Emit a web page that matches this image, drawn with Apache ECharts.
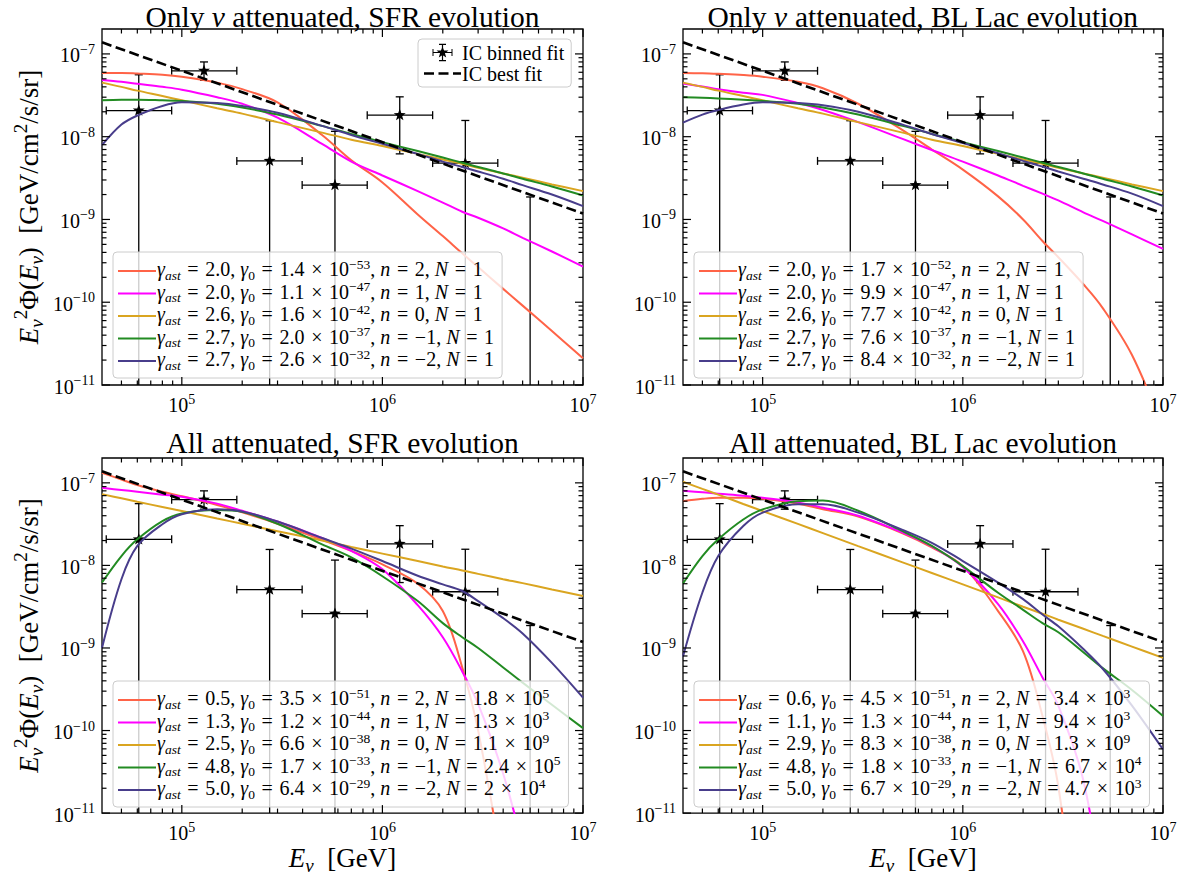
<!DOCTYPE html>
<html>
<head>
<meta charset="utf-8">
<script src="https://cdn.jsdelivr.net/npm/echarts@6/dist/echarts.min.js"></script>
<style>html,body{margin:0;padding:0;background:#fff}#chart{width:1185px;height:876px}</style>
</head>
<body>
<div id="chart"></div>
<script>
// ---------------- DATA ----------------
const energyGrid = [4e4, 5e4, 6e4, 8e4, 1e5, 1.5e5, 2e5, 3e5, 5e5, 7e5, 1e6, 1.5e6, 2e6, 2.5e6, 3e6, 4e6, 5e6, 7e6, 1e7];

// IC best fit (straight power law)
const fitEnergy = [4e4, 1e7];
const fitFlux = [1.38e-7, 1.18e-9];

// IC binned fit
const binCenter = [6.1e4, 1.29e5, 2.74e5, 5.8e5, 1.22e6, 2.59e6, 5.45e6];
const binLow = [4.2e4, 8.9e4, 1.88e5, 3.98e5, 8.4e5, 1.78e6, 3.76e6];
const binHigh = [8.9e4, 1.88e5, 3.98e5, 8.4e5, 1.78e6, 3.76e6, 7.9e6];
const binFlux = [2.07e-8, 6.25e-8, 5.1e-9, 2.6e-9, 1.82e-8, 4.8e-9, 0];
const binUpper = [5.6e-8, 8.0e-8, 1.56e-8, 1.16e-8, 3.03e-8, 1.57e-8, 1.87e-9];
const binLower = [0, 4.8e-8, 0, 0, 6.2e-9, 0, 0];

// Only nu attenuated, SFR evolution
const tlN2 = [5.9e-8, 5.9e-8, 5.8e-8, 5.6e-8, 5.3e-8, 4.5e-8, 3.75e-8, 2.6e-8, 1.05e-8, 5.2e-9, 2.8e-9, 1.15e-9, 6.3e-10, 3.9e-10, 2.66e-10, 1.45e-10, 9.1e-11, 4.5e-11, 2.1e-11];
const tlN1 = [4.85e-8, 4.6e-8, 4.35e-8, 4.0e-8, 3.7e-8, 3.0e-8, 2.5e-8, 1.7e-8, 8.2e-9, 5.0e-9, 3.4e-9, 2.2e-9, 1.6e-9, 1.24e-9, 1.05e-9, 7.8e-10, 6.0e-10, 4.1e-10, 2.7e-10];
const tlN0 = [4.5e-8, 4.0e-8, 3.6e-8, 3.1e-8, 2.75e-8, 2.2e-8, 1.9e-8, 1.5e-8, 1.12e-8, 9.2e-9, 7.7e-9, 6.2e-9, 5.3e-9, 4.7e-9, 4.2e-9, 3.6e-9, 3.2e-9, 2.65e-9, 2.2e-9];
const tlNm1 = [2.75e-8, 2.8e-8, 2.8e-8, 2.75e-8, 2.7e-8, 2.5e-8, 2.25e-8, 1.85e-8, 1.35e-8, 1.08e-8, 8.6e-9, 6.7e-9, 5.6e-9, 4.85e-9, 4.3e-9, 3.6e-9, 3.1e-9, 2.5e-9, 1.95e-9];
const tlNm2 = [7.9e-9, 1.4e-8, 1.8e-8, 2.35e-8, 2.6e-8, 2.55e-8, 2.35e-8, 1.95e-8, 1.35e-8, 1.05e-8, 8.2e-9, 6.2e-9, 5.0e-9, 4.3e-9, 3.8e-9, 3.1e-9, 2.6e-9, 2.0e-9, 1.45e-9];

// Only nu attenuated, BL Lac evolution
const trN2 = [5.9e-8, 5.85e-8, 5.75e-8, 5.55e-8, 5.3e-8, 4.6e-8, 3.85e-8, 2.5e-8, 1.2e-8, 7.0e-9, 4.0e-9, 1.9e-9, 1.0e-9, 5.5e-10, 3.5e-10, 1.65e-10, 8.5e-11, 2.3e-11, 3e-12];
const trN1 = [4.4e-8, 4.05e-8, 3.75e-8, 3.4e-8, 3.2e-8, 2.55e-8, 2.1e-8, 1.5e-8, 9.4e-9, 6.9e-9, 5.0e-9, 3.4e-9, 2.55e-9, 2.05e-9, 1.7e-9, 1.22e-9, 9.6e-10, 6.6e-10, 4.4e-10];
const trN0 = [4.5e-8, 4.0e-8, 3.6e-8, 3.1e-8, 2.75e-8, 2.2e-8, 1.9e-8, 1.5e-8, 1.12e-8, 9.2e-9, 7.7e-9, 6.2e-9, 5.3e-9, 4.7e-9, 4.2e-9, 3.6e-9, 3.2e-9, 2.65e-9, 2.2e-9];
const trNm1 = [3.0e-8, 2.95e-8, 2.9e-8, 2.8e-8, 2.7e-8, 2.5e-8, 2.25e-8, 1.85e-8, 1.35e-8, 1.08e-8, 8.6e-9, 6.7e-9, 5.6e-9, 4.85e-9, 4.3e-9, 3.6e-9, 3.1e-9, 2.5e-9, 1.95e-9];
const trNm2 = [1.48e-8, 1.85e-8, 2.1e-8, 2.45e-8, 2.6e-8, 2.55e-8, 2.4e-8, 2.0e-8, 1.4e-8, 1.08e-8, 8.4e-9, 6.3e-9, 5.1e-9, 4.35e-9, 3.8e-9, 3.1e-9, 2.65e-9, 2.05e-9, 1.45e-9];

// All attenuated, SFR evolution
const blN2 = [1.32e-7, 1.1e-7, 9.4e-8, 7.8e-8, 6.9e-8, 5.4e-8, 4.4e-8, 3.2e-8, 2.05e-8, 1.5e-8, 1.03e-8, 6.0e-9, 2.8e-9, 5.8e-10, 1.0e-10, 2e-12, null, null, null];
const blN1 = [8.7e-8, 8.2e-8, 7.8e-8, 7.2e-8, 6.8e-8, 5.6e-8, 4.6e-8, 3.4e-8, 2.15e-8, 1.5e-8, 9.0e-9, 3.3e-9, 1.35e-9, 5.2e-10, 2.1e-10, 3e-11, 4e-12, null, null];
const blN0 = [7.3e-8, 6.5e-8, 5.9e-8, 5.1e-8, 4.55e-8, 3.7e-8, 3.2e-8, 2.6e-8, 2.0e-8, 1.67e-8, 1.39e-8, 1.13e-8, 9.7e-9, 8.7e-9, 7.9e-9, 6.8e-9, 6.1e-9, 5.1e-9, 4.27e-9];
const blNm1 = [6.2e-9, 1.3e-8, 2.07e-8, 3.45e-8, 4.27e-8, 4.7e-8, 4.45e-8, 3.2e-8, 1.8e-8, 1.25e-8, 7.4e-9, 3.7e-9, 2.0e-9, 1.35e-9, 1.0e-9, 5.8e-10, 3.8e-10, 2.05e-10, 1.07e-10];
const blNm2 = [1.0e-9, 6.8e-9, 1.72e-8, 3.15e-8, 4.16e-8, 4.78e-8, 4.5e-8, 3.4e-8, 2.15e-8, 1.6e-8, 1.13e-8, 7.5e-9, 5.9e-9, 4.9e-9, 3.7e-9, 2.3e-9, 1.5e-9, 6.6e-10, 2.5e-10];

// All attenuated, BL Lac evolution
const brN2 = [6.0e-8, 6.4e-8, 6.6e-8, 6.6e-8, 6.4e-8, 5.6e-8, 4.8e-8, 3.9e-8, 2.45e-8, 1.65e-8, 9.8e-9, 2.8e-9, 9.1e-10, 1.5e-10, 2.1e-11, 1e-13, null, null, null];
const brN1 = [8.0e-8, 7.7e-8, 7.4e-8, 7.0e-8, 6.6e-8, 5.8e-8, 5.0e-8, 4.0e-8, 2.5e-8, 1.7e-8, 9.6e-9, 3.4e-9, 1.2e-9, 4.4e-10, 2.0e-10, 2.5e-11, 1e-12, null, null];
const brN0 = [1.03e-7, 8.45e-8, 7.2e-8, 5.55e-8, 4.55e-8, 3.18e-8, 2.46e-8, 1.71e-8, 1.09e-8, 8.1e-9, 5.9e-9, 4.1e-9, 3.16e-9, 2.6e-9, 2.2e-9, 1.71e-9, 1.4e-9, 1.04e-9, 7.6e-10];
const brNm1 = [6.05e-9, 1.3e-8, 2.07e-8, 3.6e-8, 4.77e-8, 6.0e-8, 6.1e-8, 4.6e-8, 2.6e-8, 1.72e-8, 9.8e-9, 4.66e-9, 2.9e-9, 2.0e-9, 1.55e-9, 8.9e-10, 5.7e-10, 3.1e-10, 1.5e-10];
const brNm2 = [7.9e-10, 4.7e-9, 1.3e-8, 3.0e-8, 4.36e-8, 5.5e-8, 5.5e-8, 4.36e-8, 2.7e-8, 1.88e-8, 1.13e-8, 6.2e-9, 3.9e-9, 2.54e-9, 1.83e-9, 9.7e-10, 5.6e-10, 2.0e-10, 5.9e-11];

// Legend parameters
const evolutionN = [2, 1, 0, -1, -2];
const tlGammaAst = ['2.0', '2.0', '2.6', '2.7', '2.7'];
const tlGamma0 = ['1.4', '1.1', '1.6', '2.0', '2.6'];
const tlGamma0Exp = [-53, -47, -42, -37, -32];
const trGammaAst = ['2.0', '2.0', '2.6', '2.7', '2.7'];
const trGamma0 = ['1.7', '9.9', '7.7', '7.6', '8.4'];
const trGamma0Exp = [-52, -47, -42, -37, -32];
const blGammaAst = ['0.5', '1.3', '2.5', '4.8', '5.0'];
const blGamma0 = ['3.5', '1.2', '6.6', '1.7', '6.4'];
const blGamma0Exp = [-51, -44, -38, -33, -29];
const blNorm = ['1.8', '1.3', '1.1', '2.4', '2'];
const blNormExp = [5, 3, 9, 5, 4];
const brGammaAst = ['0.6', '1.1', '2.9', '4.8', '5.0'];
const brGamma0 = ['4.5', '1.3', '8.3', '1.8', '6.7'];
const brGamma0Exp = [-51, -44, -38, -33, -29];
const brNorm = ['3.4', '9.4', '1.3', '6.7', '4.7'];
const brNormExp = [3, 3, 9, 4, 3];

const panelTitles = ['Only ν attenuated, SFR evolution', 'Only ν attenuated, BL Lac evolution',
                     'All attenuated, SFR evolution', 'All attenuated, BL Lac evolution'];

// Tick positions
const xMajorTicks = [1e5, 1e6, 1e7];
const xMinorTicks = [5e4, 6e4, 7e4, 8e4, 9e4, 2e5, 3e5, 4e5, 5e5, 6e5, 7e5, 8e5, 9e5, 2e6, 3e6, 4e6, 5e6, 6e6, 7e6, 8e6, 9e6];
const yMajorTicks = [1e-11, 1e-10, 1e-9, 1e-8, 1e-7];
const yMinorTicks = [2e-11, 3e-11, 4e-11, 5e-11, 6e-11, 7e-11, 8e-11, 9e-11,
                     2e-10, 3e-10, 4e-10, 5e-10, 6e-10, 7e-10, 8e-10, 9e-10,
                     2e-9, 3e-9, 4e-9, 5e-9, 6e-9, 7e-9, 8e-9, 9e-9,
                     2e-8, 3e-8, 4e-8, 5e-8, 6e-8, 7e-8, 8e-8, 9e-8];

const curveColors = ['#FF6347', '#FF00FF', '#DAA520', '#228B22', '#483D8B'];

// ---------------- BUILD ----------------
const SERIF = "'Liberation Serif', 'DejaVu Serif', serif";
const EQ = '\u2004=\u2004';
const TIMES = '\u2004×\u2004';
const grids = [
  {left: 102, top: 29, width: 481, height: 356},
  {left: 683, top: 29, width: 480, height: 356},
  {left: 102, top: 458, width: 481, height: 356},
  {left: 683, top: 458, width: 480, height: 356}
];
const panels = [
  {key: 'A', curves: [tlN2, tlN1, tlN0, tlNm1, tlNm2], ga: tlGammaAst, g0: tlGamma0, g0e: tlGamma0Exp, nm: null, ne: null},
  {key: 'B', curves: [trN2, trN1, trN0, trNm1, trNm2], ga: trGammaAst, g0: trGamma0, g0e: trGamma0Exp, nm: null, ne: null},
  {key: 'C', curves: [blN2, blN1, blN0, blNm1, blNm2], ga: blGammaAst, g0: blGamma0, g0e: blGamma0Exp, nm: blNorm, ne: blNormExp},
  {key: 'D', curves: [brN2, brN1, brN0, brNm1, brNm2], ga: brGammaAst, g0: brGamma0, g0e: brGamma0Exp, nm: brNorm, ne: brNormExp}
];

const sgn = v => (v < 0 ? '−' : '') + Math.abs(v);

function richLabel(p, k) {
  let s = '{i|γ}{sub|ast}{t|' + EQ + p.ga[k] + ', }{i|γ}{sub0|0}{t|' + EQ + p.g0[k] + TIMES + '10}{sup|' + sgn(p.g0e[k]) +
          '}{t|, }{i|n}{t|' + EQ + sgn(evolutionN[k]) + ', }{i|N}';
  if (p.nm) s += '{t|' + EQ + p.nm[k] + TIMES + '10}{sup|' + p.ne[k] + '}';
  else s += '{t|' + EQ + '1}';
  return s;
}
function plainLabel(p, k) {
  let s = p.key + ': γast = ' + p.ga[k] + ', γ0 = ' + p.g0[k] + ' × 10^' + sgn(p.g0e[k]) + ', n = ' + sgn(evolutionN[k]) + ', N = ';
  s += p.nm ? p.nm[k] + ' × 10^' + p.ne[k] : '1';
  return s;
}

const richMap = {};
const LH = 22, LF = 20, LS = 13.5;
const legendRich = {
  t: {fontFamily: SERIF, fontSize: LF, lineHeight: LH, verticalAlign: 'bottom', padding: [0, 0, 3, 0], color: '#000'},
  i: {fontFamily: SERIF, fontSize: LF, lineHeight: LH, fontStyle: 'italic', verticalAlign: 'bottom', padding: [0, 0, 3, 0], color: '#000'},
  sub: {fontFamily: SERIF, fontSize: LS, lineHeight: LH, fontStyle: 'italic', verticalAlign: 'bottom', padding: [0, 0, 0, 0], color: '#000'},
  sub0: {fontFamily: SERIF, fontSize: LS, lineHeight: LH, verticalAlign: 'bottom', padding: [0, 0, 0, 0], color: '#000'},
  sup: {fontFamily: SERIF, fontSize: LS, lineHeight: LH, verticalAlign: 'bottom', padding: [0, 0, 11, 0], color: '#000'}
};

const tickRich = {
  b: {fontFamily: SERIF, fontSize: 20, verticalAlign: 'bottom', padding: [0, 0, 0, 0], color: '#000'},
  s: {fontFamily: SERIF, fontSize: 14, verticalAlign: 'bottom', padding: [0, 0, 9, 0], color: '#000'}
};
function powLabel(v) {
  const l = Math.log10(v);
  const e = Math.round(l);
  if (Math.abs(l - e) > 1e-6) return '';
  return '{b|10}{s|' + sgn(e) + '}';
}

const NF = 27, NS = 19;
const nameRich = {
  t: {fontFamily: SERIF, fontSize: NF, verticalAlign: 'bottom', padding: [0, 0, 4, 0], color: '#000'},
  iE: {fontFamily: SERIF, fontSize: NF, fontStyle: 'italic', verticalAlign: 'bottom', padding: [0, 0, 4, 0], color: '#000'},
  sub: {fontFamily: SERIF, fontSize: NS, fontStyle: 'italic', verticalAlign: 'bottom', padding: [0, 0, 0, 0], color: '#000'},
  sup: {fontFamily: SERIF, fontSize: NS, verticalAlign: 'bottom', padding: [0, 0, 16, 0], color: '#000'}
};

function renderTicks(params, api) {
  const cs = params.coordSys;
  const kind = api.value(2);
  const st = {stroke: '#000', lineWidth: 1.2};
  const L = (kind === 0 || kind === 2) ? 8 : 4.5;
  if (kind < 2) {
    const x = api.coord([api.value(0), 1e-9])[0];
    return {type: 'group', children: [
      {type: 'line', shape: {x1: x, y1: cs.y + cs.height, x2: x, y2: cs.y + cs.height - L}, style: st},
      {type: 'line', shape: {x1: x, y1: cs.y, x2: x, y2: cs.y + L}, style: st}
    ]};
  }
  const y = api.coord([1e5, api.value(1)])[1];
  return {type: 'group', children: [
    {type: 'line', shape: {x1: cs.x, y1: y, x2: cs.x + L, y2: y}, style: st},
    {type: 'line', shape: {x1: cs.x + cs.width, y1: y, x2: cs.x + cs.width - L, y2: y}, style: st}
  ]};
}

function starPoints(cx, cy, R, r) {
  const pts = [];
  for (let k = 0; k < 10; k++) {
    const a = -Math.PI / 2 + k * Math.PI / 5;
    const rad = k % 2 === 0 ? R : r;
    pts.push([cx + rad * Math.cos(a), cy + rad * Math.sin(a)]);
  }
  return pts;
}

function renderErrorBar(params, api) {
  const cs = params.coordSys;
  const x = api.value(0), y = api.value(1), xl = api.value(2), xh = api.value(3), yl = api.value(4), yh = api.value(5);
  const bottom = cs.y + cs.height;
  const px = api.coord([x, yh])[0];
  const pTop = api.coord([x, yh])[1];
  const pBot = yl > 0 ? api.coord([x, yl])[1] : bottom;
  const st = {stroke: '#000', lineWidth: 1.3};
  const c = 4;
  const ch = [
    {type: 'line', shape: {x1: px, y1: pTop, x2: px, y2: pBot}, style: st},
    {type: 'line', shape: {x1: px - c, y1: pTop, x2: px + c, y2: pTop}, style: st}
  ];
  if (yl > 0) ch.push({type: 'line', shape: {x1: px - c, y1: pBot, x2: px + c, y2: pBot}, style: st});
  if (y > 0) {
    const py = api.coord([x, y])[1];
    const pl = api.coord([xl, y])[0], ph = api.coord([xh, y])[0];
    ch.push({type: 'line', shape: {x1: pl, y1: py, x2: ph, y2: py}, style: st});
    ch.push({type: 'line', shape: {x1: pl, y1: py - c, x2: pl, y2: py + c}, style: st});
    ch.push({type: 'line', shape: {x1: ph, y1: py - c, x2: ph, y2: py + c}, style: st});
    ch.push({type: 'polygon', shape: {points: starPoints(px, py, 6.3, 2.6)}, style: {fill: '#000'}});
  }
  return {type: 'group', children: ch};
}

function rectPath(x1, y1, x2, y2) { return 'M' + x1 + ' ' + y1 + 'L' + x2 + ' ' + y1 + 'L' + x2 + ' ' + y2 + 'L' + x1 + ' ' + y2 + 'Z'; }
function anchors(w, h) { return 'M0 0L0.01 0L0.01 0.01ZM' + w + ' ' + h + 'L' + (w - 0.01) + ' ' + h + 'L' + (w - 0.01) + ' ' + (h - 0.01) + 'Z'; }
const icX = 18.5, icY = 9;
let errIcon = 'path://' + anchors(37, 18);
errIcon += rectPath(icX - 10, icY - 0.6, icX + 10, icY + 0.6);
errIcon += rectPath(icX - 10, icY - 3.5, icX - 9, icY + 3.5) + rectPath(icX + 9, icY - 3.5, icX + 10, icY + 3.5);
errIcon += rectPath(icX - 0.6, 0.3, icX + 0.6, 17.7);
errIcon += rectPath(icX - 3.5, 0.3, icX + 3.5, 1.4) + rectPath(icX - 3.5, 16.6, icX + 3.5, 17.7);
errIcon += 'M' + starPoints(icX, icY, 6.3, 2.6).map(p => p[0].toFixed(2) + ' ' + p[1].toFixed(2)).join('L') + 'Z';
const dashIcon = 'path://' + anchors(37, 18) + rectPath(0, 7.7, 10, 10.3) + rectPath(14.5, 7.7, 24.5, 10.3) + rectPath(29, 7.7, 37, 10.3);
const lineIcon = 'path://' + anchors(38, 14) + rectPath(0, 6, 38, 8);

const xAxes = [], yAxes = [], series = [], legends = [], titles = [];
const errData = binCenter.map((c, k) => [c, binFlux[k], binLow[k], binHigh[k], binLower[k], binUpper[k]]);
const tickData = [].concat(
  xMajorTicks.map(v => [v, 1e-9, 0]), xMinorTicks.map(v => [v, 1e-9, 1]),
  yMajorTicks.map(v => [1e5, v, 2]), yMinorTicks.map(v => [1e5, v, 3]));

panels.forEach((p, i) => {
  const g = grids[i];
  const isLeft = (i % 2 === 0), isBottom = (i >= 2);
  xAxes.push({
    type: 'log', logBase: 10, gridIndex: i, min: 4e4, max: 1e7,
    axisLine: {show: false}, axisTick: {show: false}, splitLine: {show: false},
    axisLabel: {formatter: powLabel, margin: 7, rich: tickRich},
    name: isBottom ? '{iE|E}{sub|ν}{t|  [GeV]}' : '', nameLocation: 'middle', nameGap: 25,
    nameTextStyle: {rich: nameRich}
  });
  yAxes.push({
    type: 'log', logBase: 10, gridIndex: i, min: 1e-11, max: 2e-7,
    axisLine: {show: false}, axisTick: {show: false}, splitLine: {show: false},
    axisLabel: {formatter: powLabel, margin: 7, rich: tickRich},
    name: isLeft ? '{iE|E}{sub|ν}{sup|2}{t|Φ(}{iE|E}{sub|ν}{t|)  [GeV/cm}{sup|2}{t|/s/sr]}' : '',
    nameLocation: 'middle', nameRotate: 90, nameGap: 56,
    nameTextStyle: {rich: nameRich}
  });
  const titleRich = '{t|' + panelTitles[i].split('ν').join('}{i|ν}{t|') + '}';
  titles.push({
    text: titleRich, left: g.left + g.width / 2, top: i >= 2 ? 426 : 0, textAlign: 'center', padding: 0,
    textStyle: {fontWeight: 'normal', rich: {
      t: {fontFamily: SERIF, fontSize: 29.5, lineHeight: 34, fontWeight: 'normal', color: '#000'},
      i: {fontFamily: SERIF, fontSize: 29.5, lineHeight: 34, fontWeight: 'normal', fontStyle: 'italic', color: '#000'}
    }}
  });

  // error bars
  series.push({
    type: 'custom', name: 'IC binned fit', xAxisIndex: i, yAxisIndex: i, z: 1,
    renderItem: renderErrorBar, data: errData, encode: {x: 0, y: 1},
    itemStyle: {color: '#000'}, silent: true
  });
  // curves
  const names = [];
  p.curves.forEach((vals, k) => {
    const nm = plainLabel(p, k);
    names.push({name: nm, icon: lineIcon});
    richMap[nm] = richLabel(p, k);
    series.push({
      type: 'line', name: nm, xAxisIndex: i, yAxisIndex: i, z: 2,
      data: energyGrid.map((e, j) => [e, vals[j]]),
      symbol: 'none', smooth: 0.35, silent: true,
      lineStyle: {color: curveColors[k], width: 2}, itemStyle: {color: curveColors[k]},
      emphasis: {disabled: true}
    });
  });
  // best fit
  series.push({
    type: 'line', name: 'IC best fit', xAxisIndex: i, yAxisIndex: i, z: 3,
    data: fitEnergy.map((e, j) => [e, fitFlux[j]]), symbol: 'none', silent: true,
    lineStyle: {color: '#000', width: 2.6, type: [10, 4.5]}, itemStyle: {color: '#000'},
    emphasis: {disabled: true}
  });
  // ticks
  series.push({
    type: 'custom', name: 'ticks' + i, xAxisIndex: i, yAxisIndex: i, z: 5,
    renderItem: renderTicks, data: tickData, encode: {x: 0, y: 1}, silent: true
  });

  legends.push({
    orient: 'vertical', left: g.left + 11, top: g.top + g.height - 133,
    data: names, selectedMode: false,
    itemWidth: 38, itemHeight: 14, itemGap: -2.5,
    padding: [5, 8, 6, 5],
    backgroundColor: 'rgba(255,255,255,0.8)', borderColor: '#cccccc', borderWidth: 1, borderRadius: 4,
    formatter: name => richMap[name],
    textStyle: {rich: legendRich, padding: [0, 0, 0, -4]}
  });
});

legends.push({
  orient: 'vertical', left: 418, top: 39, selectedMode: false,
  data: [{name: 'IC binned fit', icon: errIcon}, {name: 'IC best fit', icon: dashIcon}],
  itemWidth: 37, itemHeight: 18, itemGap: 0,
  padding: [3, 7, 3, 6],
  backgroundColor: 'rgba(255,255,255,0.8)', borderColor: '#cccccc', borderWidth: 1, borderRadius: 4,
  textStyle: {fontFamily: SERIF, fontSize: 20, lineHeight: 21, color: '#000', padding: [0, 0, 0, -4]}
});

const chart = echarts.init(document.getElementById('chart'), null, {renderer: 'svg'});
chart.setOption({
  animation: false,
  backgroundColor: '#fff',
  textStyle: {fontFamily: SERIF},
  title: titles,
  grid: grids.map(g => Object.assign({show: true, borderColor: '#000', borderWidth: 1.3, backgroundColor: 'transparent', containLabel: false}, g)),
  xAxis: xAxes,
  yAxis: yAxes,
  legend: legends,
  series: series
});
</script>
</body>
</html>
